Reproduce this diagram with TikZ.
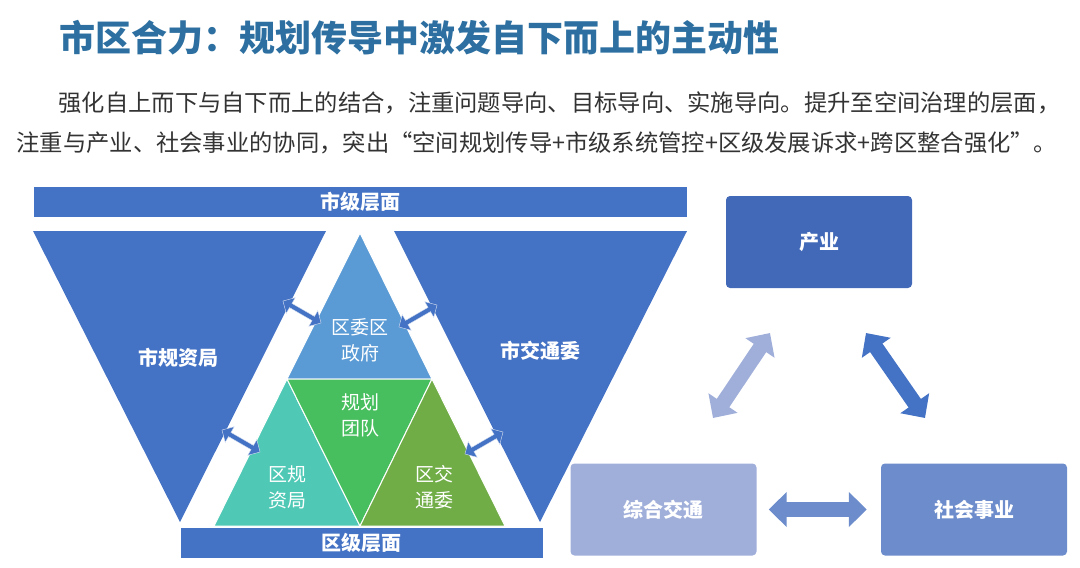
\documentclass[tikz,border=0pt]{standalone}
\usepackage{fontspec}
\setmainfont{Noto Sans CJK SC}
\usetikzlibrary{positioning,arrows.meta,shapes.arrows}
\definecolor{barblue}{HTML}{4472C4}
\definecolor{topblue}{HTML}{5B9BD5}
\definecolor{tealtri}{HTML}{4FC9B5}
\definecolor{greentri}{HTML}{48BF5F}
\definecolor{olivetri}{HTML}{70AD47}
\definecolor{titleblue}{HTML}{2C6FA0}
\definecolor{boxdark}{HTML}{4169B8}
\definecolor{boxlight}{HTML}{A0AFDA}
\definecolor{boxmid}{HTML}{6C8CCB}
\tikzset{
  bar/.style={fill=barblue, draw=white, font=\bfseries\fontsize{20}{20}\selectfont, text=white, inner sep=0pt},
  tri/.style={draw=white, line width=1pt},
  lbl/.style={text=white, font=\fontsize{19}{26}\selectfont, align=center},
  biglbl/.style={text=white, font=\bfseries\fontsize{20}{20}\selectfont},
  box/.style={rounded corners=4pt, minimum width=186pt, minimum height=92pt, text=white, font=\bfseries\fontsize{20}{20}\selectfont},
  edgearrow/.style={double arrow, fill=barblue, draw=white!80!barblue, minimum height=44pt, minimum width=18pt, double arrow head extend=6pt, inner sep=2pt},
  blockarrow/.style={line width=15pt, {Triangle[width=34pt,length=18pt]}-{Triangle[width=34pt,length=18pt]}},
}
\begin{document}
\begin{tikzpicture}[x=1pt,y=-1pt]
  \useasboundingbox (0,0) rectangle (1080,568);
  % title and text
  \node[anchor=west, text=titleblue, font=\bfseries\fontsize{36}{36}\selectfont] (title) at (56,38) {市区合力：规划传导中激发自下而上的主动性};
  \node[anchor=west, text=black!80, font=\fontsize{23.3}{23.3}\selectfont] (line1) at (55,103) {强化自上而下与自下而上的结合，注重问题导向、目标导向、实施导向。提升至空间治理的层面，};
  \node[anchor=west, text=black!80, font=\fontsize{23.3}{23.3}\selectfont] (line2) at (13,143) {注重与产业、社会事业的协同，突出“空间规划传导+市级系统管控+区级发展诉求+跨区整合强化”。};

  % levels
  \node[bar, minimum width=654pt, minimum height=31pt] (city) at (360,201.5) {市级层面};
  \node[bar, minimum width=363pt, minimum height=31pt] (district) at (361.5,542.5) {区级层面};

  % inverted triangles
  \fill[barblue] (33,231) -- (326,231) -- (180,522) -- cycle;
  \fill[barblue] (394,231) -- (687,231) -- (540,522) -- cycle;
  \node[biglbl] (plan) at (178,358) {市规资局};
  \node[biglbl] (traffic) at (540,351) {市交通委};

  % central triangle
  \filldraw[tri, fill=topblue] (360,233) -- (287,379) -- (432,379) -- cycle;
  \filldraw[tri, fill=tealtri] (287,379) -- (214,526) -- (360,526) -- cycle;
  \filldraw[tri, fill=greentri] (287,379) -- (432,379) -- (360,526) -- cycle;
  \filldraw[tri, fill=olivetri] (432,379) -- (360,526) -- (505,526) -- cycle;
  \node[lbl] (gov) at (360,340) {区委区\\政府};
  \node[lbl] (team) at (360,415) {规划\\团队};
  \node[lbl] (dplan) at (287,487) {区规\\资局};
  \node[lbl] (dtraffic) at (434,487) {区交\\通委};

  % arrows at the edges
  \node[edgearrow, rotate=-30] (a1) at (302,312) {};
  \node[edgearrow, rotate=30] (a2) at (418,316) {};
  \node[edgearrow, rotate=-30] (a3) at (241,441) {};
  \node[edgearrow, rotate=30] (a4) at (484,443) {};

  % right part
  \node[box, fill=boxdark] (industry) at (819,242) {产业};
  \node[box, fill=boxlight] (transport) at (663.5,509.5) {综合交通};
  \node[box, fill=boxmid] (social) at (974,509.5) {社会事业};
  \coordinate (p1) at (770,333);
  \coordinate (p2) at (713,418);
  \coordinate (p3) at (866,333);
  \coordinate (p4) at (925,418);
  \draw[blockarrow, color=boxlight] (p1) -- (p2);
  \draw[blockarrow, color=barblue] (p3) -- (p4);
  \draw[blockarrow, color=boxmid, shorten <=12pt, shorten >=14pt] (transport.east) -- (social.west);
\end{tikzpicture}
\end{document}
